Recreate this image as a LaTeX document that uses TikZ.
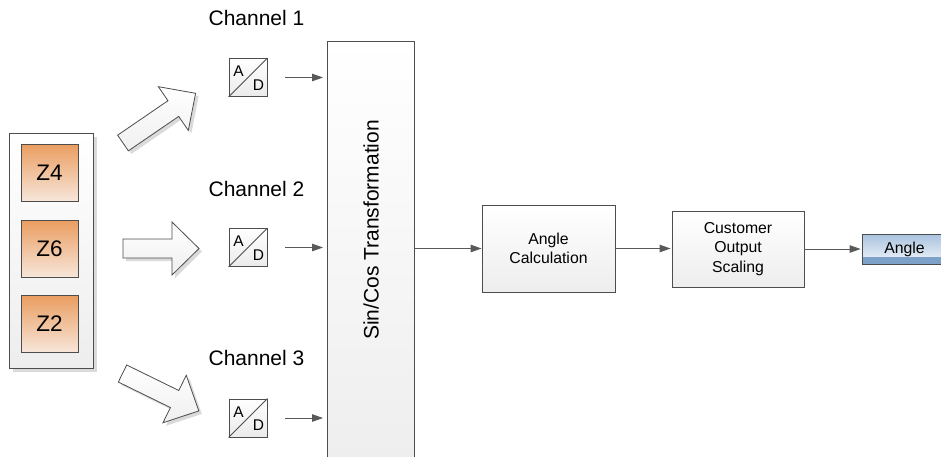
\documentclass[tikz,border=0pt]{standalone}
\usepackage{fontspec}
\setmainfont{Liberation Sans}
\usetikzlibrary{arrows.meta,calc}
\definecolor{linegray}{HTML}{4D4D4D}
\definecolor{arrgray}{HTML}{595959}
\definecolor{shadowgray}{HTML}{DADADA}
\definecolor{orangetop}{HTML}{EA9D60}
\definecolor{orangebot}{HTML}{F7E6DA}
\definecolor{bluetop}{HTML}{A9C3DE}
\definecolor{bluebot}{HTML}{F2F6FA}
\definecolor{blueband}{HTML}{7DA1C9}

\newcommand\blockarrow[4]{%
  \begin{scope}[shift={(#1+3,#2+3)}, rotate=#3]
    \fill[shadowgray] (0,-9.5) -- (#4-27,-9.5) -- (#4-27,-26.5) -- (#4,0) -- (#4-27,26.5) -- (#4-27,9.5) -- (0,9.5) -- cycle;
  \end{scope}
  \begin{scope}[shift={(#1,#2)}, rotate=#3]
    \draw[blockarr] (0,-9.5) -- (#4-27,-9.5) -- (#4-27,-26.5) -- (#4,0) -- (#4-27,26.5) -- (#4-27,9.5) -- (0,9.5) -- cycle;
  \end{scope}}

\newcommand\adconv[3]{%
  \node[adbox] (#1) at (#2,#3) {};
  \draw[linegray, line width=0.9pt] (#1.south west) -- (#1.north east);
  \node[adtext] (#1a) at ($(#1.north west)+(10,13.5)$) {A};
  \node[adtext] (#1d) at ($(#1.south east)+(-9,-12)$) {D};}

\begin{document}
\begin{tikzpicture}[x=1pt,y=-1pt,
  procbox/.style={draw=linegray, line width=0.9pt, top color=white, bottom color=black!7,
    inner sep=0pt, align=center, font=\fontsize{15.8}{19.5}\selectfont},
  zbox/.style={draw=linegray, line width=0.9pt, top color=orangetop, bottom color=orangebot,
    minimum width=57pt, minimum height=57pt, inner sep=0pt, font=\fontsize{22.5}{26}\selectfont},
  adbox/.style={draw=linegray, line width=0.9pt, top color=white, bottom color=black!8,
    minimum size=38pt, inner sep=0pt},
  adtext/.style={font=\fontsize{15.5}{15.5}\selectfont, inner sep=0pt},
  chlabel/.style={font=\fontsize{21}{24}\selectfont, inner sep=0pt},
  flow/.style={draw=arrgray, line width=0.9pt, -{Triangle[length=11pt,width=7.5pt]}},
  blockarr/.style={draw=linegray, line width=0.8pt, top color=white, bottom color=black!6},
]
\useasboundingbox (0,0) rectangle (941,456);
\clip (0,0) rectangle (941,456);
\fill[white] (0,0) rectangle (941,456);

% sensor group
\fill[shadowgray] (13,137) rectangle (97,372);
\node[draw=linegray, line width=0.9pt, top color=white, bottom color=black!7,
  minimum width=84pt, minimum height=235pt, inner sep=0pt, anchor=north west] (zgroup) at (9,133) {};
\node[zbox] (z4) at (49.5,172.5) {Z4};
\node[zbox] (z6) at (49.5,248.5) {Z6};
\node[zbox] (z2) at (49.5,324) {Z2};

% block arrows
\blockarrow{123}{143}{34.4}{88}
\blockarrow{123}{248.5}{0}{76}
\blockarrow{122.5}{373.5}{-26.1}{85}

% channel labels
\node[chlabel] (ch1) at (256.5,18) {Channel 1};
\node[chlabel] (ch2) at (256.5,188.5) {Channel 2};
\node[chlabel] (ch3) at (256.5,358) {Channel 3};

% A/D converters
\adconv{ad1}{248}{77.5}
\adconv{ad2}{248}{247.5}
\adconv{ad3}{248}{418}

% Sin/Cos transformation
\node[procbox, minimum width=87pt, minimum height=440pt, anchor=north west] (sincos) at (327,41) {};
\node[rotate=90, font=\fontsize{21}{24}\selectfont, inner sep=0pt] (sctext) at (371,230) {Sin/Cos Transformation};

\draw[flow, shorten <=18pt, shorten >=4pt] (ad1.east) -- (ad1.east -| sincos.west);
\draw[flow, shorten <=18pt, shorten >=4pt] (ad2.east) -- (ad2.east -| sincos.west);
\draw[flow, shorten <=18pt, shorten >=4pt] (ad3.east) -- (ad3.east -| sincos.west);

% processing chain
\node[procbox, minimum width=133pt, minimum height=87pt] (calc) at (548.5,248.5) {Angle\\Calculation};
\node[procbox, minimum width=132pt, minimum height=76pt] (scale) at (738,249) {Customer\\Output\\Scaling};
\node[draw=linegray, line width=0.9pt, top color=bluetop, bottom color=bluebot,
  minimum width=85pt, minimum height=30pt, inner sep=0pt, font=\fontsize{15.8}{19}\selectfont,
  path picture={\fill[blueband] (path picture bounding box.south west) rectangle ([yshift=7pt]path picture bounding box.south east);}]
  (out) at (904.5,249) {Angle};

\draw[flow] (calc.west -| sincos.east) -- (calc.west);
\draw[flow, shorten >=1pt] (calc.east) -- (calc.east -| scale.west);
\draw[flow, shorten >=1pt] (scale.east) -- (scale.east -| out.west);
\end{tikzpicture}
\end{document}
